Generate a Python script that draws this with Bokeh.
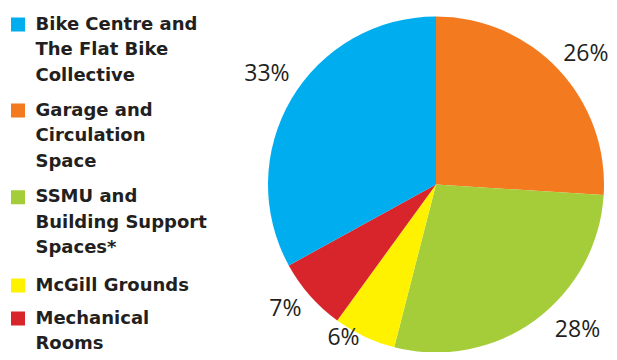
import math
from bokeh.plotting import figure
from bokeh.models import Range1d, ColumnDataSource
from bokeh.core.properties import value
from bokeh.embed import file_html
from bokeh.resources import INLINE

# ---- data (clockwise from 12 o'clock) ----
categories = ["Garage and Circulation Space", "SSMU and Building Support Spaces*",
              "McGill Grounds", "Mechanical Rooms", "Bike Centre and The Flat Bike Collective"]
shares = [26, 28, 6, 7, 33]
pct_labels = ["26%", "28%", "6%", "7%", "33%"]
colors = ["#F47A20", "#A5CD39", "#FFF200", "#D7252B", "#00AEEF"]

# legend (top-to-bottom order)
legend_lines = [
    ["Bike Centre and", "The Flat Bike", "Collective"],
    ["Garage and", "Circulation", "Space"],
    ["SSMU and", "Building Support", "Spaces*"],
    ["McGill Grounds"],
    ["Mechanical", "Rooms"],
]
legend_colors = ["#00AEEF", "#F47A20", "#A5CD39", "#FFF200", "#D7252B"]

# ---- layout / style ----
W, H = 609, 352
CX, CY, R = 435.5, 168.0, 168.0
label_nudge_deg = [1.7, -8.6, 6.3, 2.3, 3.0]
label_dist = [200.0, 201.5, 177.1, 194.0, 203.0]
legend_first_baseline = [29, 115, 201.7, 290, 323]   # px from top
line_step = 25.5
cap_half = 6.5
TEXT = "#231F20"

p = figure(width=W, height=H, output_backend="svg", toolbar_location=None,
           x_range=Range1d(0, W), y_range=Range1d(0, H), min_border=0)
p.axis.visible = False
p.grid.visible = False
p.outline_line_color = None
p.background_fill_color = "white"

total = float(sum(shares))
starts, ends, lx, ly = [], [], [], []
cum = 0.0
for i, s in enumerate(shares):
    a0 = cum / total
    cum += s
    a1 = cum / total
    starts.append(math.pi / 2 - 2 * math.pi * a0)
    ends.append(math.pi / 2 - 2 * math.pi * a1)
    mid = math.degrees(2 * math.pi * (a0 + a1) / 2) + label_nudge_deg[i]
    th = math.radians(mid)
    lx.append(CX + label_dist[i] * math.sin(th))
    ly.append(CY + label_dist[i] * math.cos(th))

src = ColumnDataSource(dict(start=starts, end=ends, color=colors))
p.wedge(x=CX, y=CY, radius=R, start_angle="start", end_angle="end",
        direction="clock", fill_color="color", line_color=None, source=src)

p.text(x=lx, y=ly, text=pct_labels, text_align="center", text_baseline="middle",
       text_font=value("Open Sans"), text_font_size="23px", text_color=TEXT)

# legend
sq_x, sq_y, tx, ty, tt = [], [], [], [], []
for i, lines in enumerate(legend_lines):
    b = legend_first_baseline[i]
    sq_x.append(17.5)
    sq_y.append(H - (b - 5))
    for j, line in enumerate(lines):
        tx.append(35)
        ty.append(H - (b + j * line_step - cap_half))
        tt.append(line)

p.rect(x=sq_x, y=sq_y, width=14, height=14, fill_color=legend_colors, line_color=None)
p.text(x=tx, y=ty, text=tt, text_align="left", text_baseline="middle",
       text_font=value("DejaVu Sans"), text_font_style="bold", text_font_size="18px",
       text_color=TEXT)

open("out.html", "w").write(file_html(p, INLINE))
